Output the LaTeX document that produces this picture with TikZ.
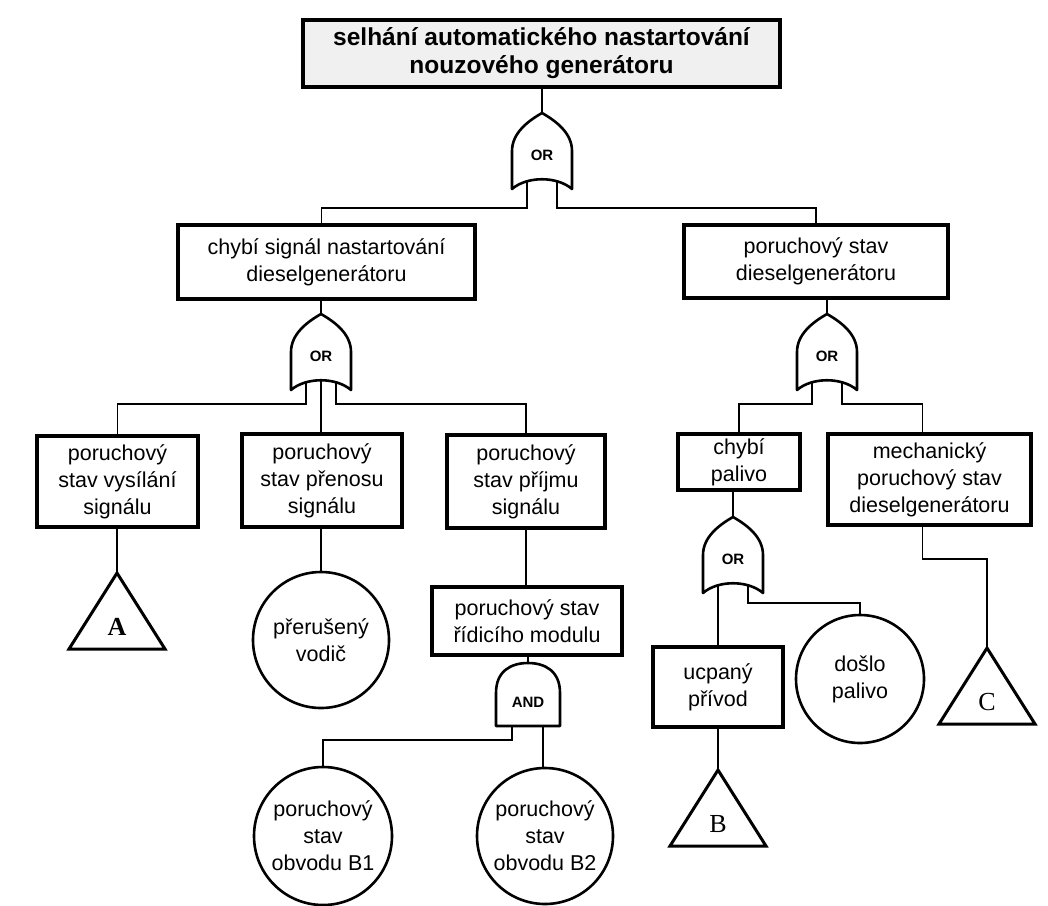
\documentclass[tikz,border=0pt]{standalone}
\usepackage{fontspec}
\setmainfont{Liberation Sans}
\newfontfamily\trifont{Liberation Serif}

\tikzset{
  orgate/.pic={
    \draw[gateline] (0,0) .. controls (14,8) and (30,20) .. (30,38) -- (30,76)
      .. controls (15,63) and (-15,63) .. (-30,76) -- (-30,38)
      .. controls (-30,20) and (-14,8) .. cycle;
    \coordinate (-top) at (0,0);
    \coordinate (-l) at (-15,69);
    \coordinate (-c) at (0,66);
    \coordinate (-r) at (15,69);
    \node[gatetext] (-txt) at (0,42) {OR};
  },
  andgate/.pic={
    \draw[gateline] (-32,63) -- (-32,30) .. controls (-32,8) and (-17,0) .. (0,0)
      .. controls (17,0) and (32,8) .. (32,30) -- (32,63) -- cycle;
    \coordinate (-top) at (0,0);
    \coordinate (-l) at (-16,63);
    \coordinate (-r) at (15,63);
    \node[gatetext] (-txt) at (0,39) {AND};
  },
  transfer/.pic={
    \draw[triline] (0,0) -- (48,76) -- (-48,76) -- cycle;
    \coordinate (-top) at (0,0);
    \node[tritext] (-txt) at (0,54) {#1};
  }
}

\begin{document}
\begin{tikzpicture}[x=1pt,y=-1pt,
    conn/.style={line width=1.6pt},
    gateline/.style={line width=2.6pt, fill=white, line join=round},
    gatetext/.style={font=\fontsize{15}{15}\selectfont\bfseries, inner sep=0},
    triline/.style={line width=3pt, line join=miter},
    tritext/.style={font=\trifont\fontsize{26}{26}\selectfont, inner sep=0},
    event/.style={draw, line width=3.5pt, align=center, inner sep=0,
      font=\fontsize{21.5}{27}\selectfont},
    topevent/.style={event, fill=gray!12, line width=4pt,
      font=\fontsize{24.5}{28}\selectfont\bfseries},
    basic/.style={draw, circle, line width=2.6pt, align=center, inner sep=0,
      minimum size=136pt, font=\fontsize{21.5}{27}\selectfont}]

  \useasboundingbox (0,0) rectangle (1048,905);

  % events
  \node[topevent, minimum width=477pt, minimum height=67pt] (0) at (541.5,53.5)
    {selhání automatického nastartování\\nouzového generátoru};
  \node[event, minimum width=297pt, minimum height=74pt] (1) at (326.5,262)
    {chybí signál nastartování\\dieselgenerátoru};
  \node[event, minimum width=264pt, minimum height=73pt] (2) at (816,261.5)
    {poruchový stav\\dieselgenerátoru};
  \node[event, minimum width=161pt, minimum height=91pt] (3) at (117.5,481.5)
    {poruchový\\stav vysílání\\signálu};
  \node[event, minimum width=160pt, minimum height=93pt] (4) at (322,480.5)
    {poruchový\\stav přenosu\\signálu};
  \node[event, minimum width=158pt, minimum height=93pt] (5) at (526,481.5)
    {poruchový\\stav příjmu\\signálu};
  \node[event, minimum width=122pt, minimum height=56pt] (6) at (739,462)
    {chybí\\palivo};
  \node[event, minimum width=203pt, minimum height=91pt] (7) at (929.5,479.5)
    {mechanický\\poruchový stav\\dieselgenerátoru};
  \node[event, minimum width=190pt, minimum height=68pt] (8) at (527,621)
    {poruchový stav\\řídicího modulu};
  \node[event, minimum width=130pt, minimum height=80pt] (9) at (718,687)
    {ucpaný\\přívod};

  % basic events
  \node[basic] (10) at (321,640) {přerušený\\vodič};
  \node[basic, minimum size=128pt] (11) at (860,679) {došlo\\palivo};
  \node[basic, minimum size=138pt] (12) at (323,836) {poruchový\\stav\\obvodu B1};
  \node[basic] (13) at (545,836) {poruchový\\stav\\obvodu B2};

  % gates
  \pic (o1) at (542,113) {orgate};
  \pic (o2) at (321,314) {orgate};
  \pic (o3) at (827,314) {orgate};
  \pic (o4) at (733,517) {orgate};
  \pic (a1) at (528,663) {andgate};

  % transfer symbols
  \pic (tA) at (117,573) {transfer=\textbf{A}};
  \pic (tB) at (718,770) {transfer=B};
  \pic (tC) at (987,648) {transfer=C};

  % connectors
  \draw[conn] (o1-top) -- (o1-top |- 0.south);
  \draw[conn] (o1-l) -- ++(0,26) -| ([xshift=-5pt]1.north);
  \draw[conn] (o1-r) -- ++(0,26) -| (2.north);
  \draw[conn] (o2-top) -- (o2-top |- 1.south);
  \draw[conn] (o2-l) -- ++(0,21) -| (3.north);
  \draw[conn] (o2-c) -- (o2-c |- 4.north);
  \draw[conn] (o2-r) -- ++(0,21) -| (5.north);
  \draw[conn] (o3-top) -- (o3-top |- 2.south);
  \draw[conn] (o3-l) -- ++(0,21) -| (6.north);
  \draw[conn] (o3-r) -- ++(0,21) -| ([xshift=-7pt]7.north);
  \draw[conn] (tA-top) -- (tA-top |- 3.south);
  \draw[conn] (10.north) -- (10.north |- 4.south);
  \draw[conn] (5.south) -- (5.south |- 8.north);
  \draw[conn] (a1-top) -- (a1-top |- 8.south);
  \draw[conn] (a1-l) -- ++(0,14) -| (12.north);
  \draw[conn] (a1-r) -- (a1-r |- 13.north);
  \draw[conn] (o4-top) -- (o4-top |- 6.south);
  \draw[conn] (o4-l) -- (o4-l |- 9.north);
  \draw[conn] (o4-r) -- ++(0,17) -| (11.north);
  \draw[conn] (tB-top) -- (tB-top |- 9.south);
  \draw[conn] ([xshift=-7pt]7.south) -- ++(0,32) -| (tC-top);

\end{tikzpicture}
\end{document}
